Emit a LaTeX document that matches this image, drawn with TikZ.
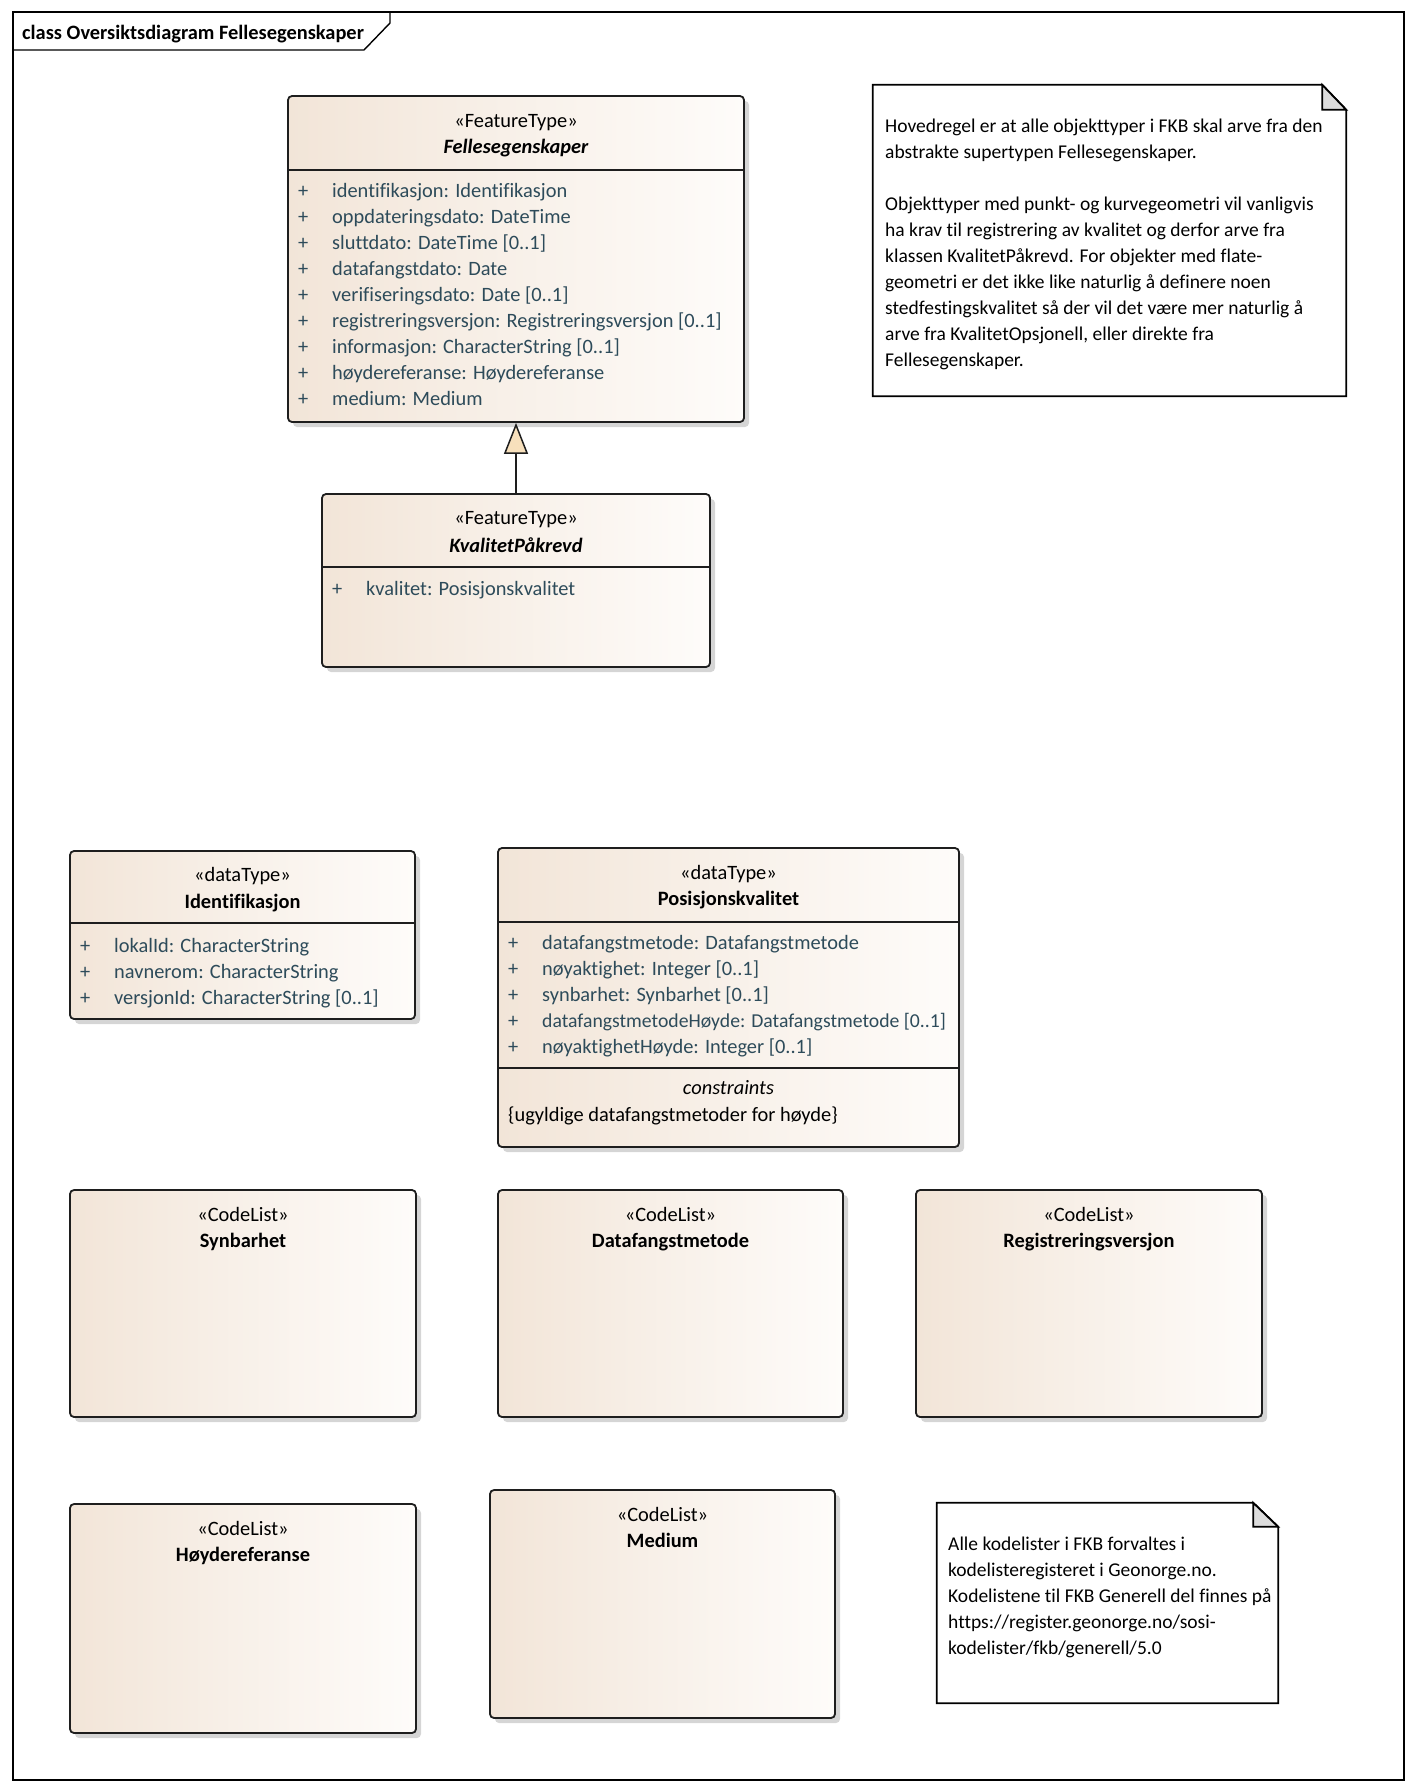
\documentclass[tikz,border=0pt]{standalone}
\usepackage{fontspec}
\setmainfont{Carlito}[Ligatures={NoCommon}]
\usetikzlibrary{shadows,calc,arrows.meta}
\definecolor{attrc}{RGB}{45,75,90}
\definecolor{boxL}{RGB}{242,229,216}
\definecolor{boxR}{RGB}{254,252,250}
\definecolor{foldc}{RGB}{220,220,220}
\definecolor{trifill}{RGB}{247,224,188}
\definecolor{edgec}{RGB}{30,30,30}
\tikzset{
  umlbox/.style={draw=edgec, line width=1.8pt, rounded corners=4pt,
    left color=boxL, right color=boxR, inner sep=0pt,
    drop shadow={shadow xshift=5pt, shadow yshift=-5pt, fill=black!30, opacity=0.55}},
  stereo/.style={anchor=base, inner sep=0pt, font=\fontsize{20.4}{24}\selectfont},
  cname/.style={anchor=base, inner sep=0pt, font=\fontsize{20.4}{24}\selectfont\bfseries},
  aname/.style={anchor=base, inner sep=0pt, font=\fontsize{20.4}{24}\selectfont\bfseries\itshape},
  attrtxt/.style={anchor=base west, inner sep=0pt, text=attrc, font=\fontsize{20.4}{24}\selectfont},
  plaintxt/.style={anchor=base west, inner sep=0pt, font=\fontsize{20.4}{24}\selectfont},
  divider/.style={line width=1.8pt, edgec},
  noteshape/.style={rectangle, inner sep=0pt},
  noteline/.style={line width=1.8pt, draw=black, fill=white},
  notetxt/.style={anchor=north west, inner sep=0pt, align=left, font=\fontsize{19.5}{26}\selectfont},
  framel/.style={line width=1.4pt, black},
}
\newcommand{\attrrow}[4]{%
  \node[attrtxt] (#1p) at ({#2+10},#3) {+};
  \node[attrtxt] (#1) at ({#2+44},#3) {#4};}
\begin{document}
\begin{tikzpicture}[x=1pt,y=-1pt]
\useasboundingbox (0,0) rectangle (1416,1792);
% frame
\draw[framel] (13,12) rectangle (1404,1780);
\draw[framel] (13,50) -- (364,50) -- (390,23) -- (390,12);
\node[cname, anchor=base west] (title) at (22,39) {class Oversiktsdiagram Fellesegenskaper};

% Fellesegenskaper
\node[umlbox, minimum width=456pt, minimum height=326pt] (felles) at (516,259) {};
\node[stereo] (fellesS) at (516,127) {«FeatureType»};
\node[aname] (fellesN) at (516,153) {Fellesegenskaper};
\draw[divider] (felles.west |- 0,170) -- (felles.east |- 0,170);
\attrrow{fa1}{288}{197}{identifikasjon: Identifikasjon}
\attrrow{fa2}{288}{223}{oppdateringsdato: DateTime}
\attrrow{fa3}{288}{249}{sluttdato: DateTime [0..1]}
\attrrow{fa4}{288}{275}{datafangstdato: Date}
\attrrow{fa5}{288}{301}{verifiseringsdato: Date [0..1]}
\attrrow{fa6}{288}{327}{registreringsversjon: Registreringsversjon [0..1]}
\attrrow{fa7}{288}{353}{informasjon: CharacterString [0..1]}
\attrrow{fa8}{288}{379}{høydereferanse: Høydereferanse}
\attrrow{fa9}{288}{405}{medium: Medium}

% KvalitetPåkrevd
\node[umlbox, minimum width=388pt, minimum height=173pt] (kp) at (516,580.5) {};
\node[stereo] (kpS) at (516,524) {«FeatureType»};
\node[aname] (kpN) at (516,552) {KvalitetPåkrevd};
\draw[divider] (kp.west |- 0,567) -- (kp.east |- 0,567);
\attrrow{ka1}{322}{595}{kvalitet: Posisjonskvalitet}

% generalization
\draw[line width=1.8pt, edgec, -{Triangle[length=31pt, width=24pt, fill=trifill, line width=1.5pt]}] (kp.north) -- (felles.south);

% Note 1
\node[noteshape, minimum width=473pt, minimum height=311pt] (note1) at (1109.5,240.5) {};
\draw[noteline] (note1.north west) -- ($(note1.north east)+(-24,0)$) -- ($(note1.north east)+(0,25)$) -- (note1.south east) -- (note1.south west) -- cycle;
\draw[line width=1.8pt, fill=foldc] ($(note1.north east)+(-24,0)$) -- ($(note1.north east)+(-24,25)$) -- ($(note1.north east)+(0,25)$) -- cycle;
\node[notetxt] (note1t) at (885,119) {Hovedregel er at alle objekttyper i FKB skal arve fra den\\
abstrakte supertypen Fellesegenskaper.\\[26pt]
Objekttyper med punkt- og kurvegeometri vil vanligvis\\
ha krav til registrering av kvalitet og derfor arve fra\\
klassen KvalitetPåkrevd. For objekter med flate-\\
geometri er det ikke like naturlig å definere noen\\
stedfestingskvalitet så der vil det være mer naturlig å\\
arve fra KvalitetOpsjonell, eller direkte fra\\
Fellesegenskaper.};

% Identifikasjon
\node[umlbox, minimum width=345pt, minimum height=168pt] (ident) at (242.5,935) {};
\node[stereo] (identS) at (242.5,881) {«dataType»};
\node[cname] (identN) at (242.5,908) {Identifikasjon};
\draw[divider] (ident.west |- 0,923) -- (ident.east |- 0,923);
\attrrow{ia1}{70}{952}{lokalId: CharacterString}
\attrrow{ia2}{70}{978}{navnerom: CharacterString}
\attrrow{ia3}{70}{1004}{versjonId: CharacterString [0..1]}

% Posisjonskvalitet
\node[umlbox, minimum width=461pt, minimum height=299pt] (posk) at (728.5,997.5) {};
\node[stereo] (poskS) at (728.5,879) {«dataType»};
\node[cname] (poskN) at (728.5,905) {Posisjonskvalitet};
\draw[divider] (posk.west |- 0,922) -- (posk.east |- 0,922);
\attrrow{pa1}{498}{949}{datafangstmetode: Datafangstmetode}
\attrrow{pa2}{498}{975}{nøyaktighet: Integer [0..1]}
\attrrow{pa3}{498}{1001}{synbarhet: Synbarhet [0..1]}
\node[attrtxt] (pa4p) at (508,1027) {+};
\node[attrtxt, font=\fontsize{19.7}{24}\selectfont] (pa4) at (542,1027) {datafangstmetodeHøyde: Datafangstmetode [0..1]};
\attrrow{pa5}{498}{1053}{nøyaktighetHøyde: Integer [0..1]}
\draw[divider] (posk.west |- 0,1068) -- (posk.east |- 0,1068);
\node[stereo, font=\fontsize{20.4}{24}\selectfont\itshape] (poskC) at (728.5,1094) {constraints};
\node[plaintxt] (poskCt) at (508,1121) {\{ugyldige datafangstmetoder for høyde\}};

% CodeLists row 1
\node[umlbox, minimum width=346pt, minimum height=227pt] (synb) at (243,1303.5) {};
\node[stereo] (synbS) at (243,1221) {«CodeList»};
\node[cname] (synbN) at (243,1247) {Synbarhet};

\node[umlbox, minimum width=345pt, minimum height=227pt] (dataf) at (670.5,1303.5) {};
\node[stereo] (datafS) at (670.5,1221) {«CodeList»};
\node[cname] (datafN) at (670.5,1247) {Datafangstmetode};

\node[umlbox, minimum width=346pt, minimum height=227pt] (regv) at (1089,1303.5) {};
\node[stereo] (regvS) at (1089,1221) {«CodeList»};
\node[cname] (regvN) at (1089,1247) {Registreringsversjon};

% CodeLists row 2
\node[umlbox, minimum width=346pt, minimum height=229pt] (hoyde) at (243,1618.5) {};
\node[stereo] (hoydeS) at (243,1535) {«CodeList»};
\node[cname] (hoydeN) at (243,1561) {Høydereferanse};

\node[umlbox, minimum width=345pt, minimum height=228pt] (medium) at (662.5,1604) {};
\node[stereo] (mediumS) at (662.5,1521) {«CodeList»};
\node[cname] (mediumN) at (662.5,1547) {Medium};

% Note 2
\node[noteshape, minimum width=341pt, minimum height=200pt] (note2) at (1107.5,1603) {};
\draw[noteline] (note2.north west) -- ($(note2.north east)+(-25,0)$) -- ($(note2.north east)+(0,24)$) -- (note2.south east) -- (note2.south west) -- cycle;
\draw[line width=1.8pt, fill=foldc] ($(note2.north east)+(-25,0)$) -- ($(note2.north east)+(-25,24)$) -- ($(note2.north east)+(0,24)$) -- cycle;
\node[notetxt] (note2t) at (948,1537) {Alle kodelister i FKB forvaltes i\\
kodelisteregisteret i Geonorge.no.\\
Kodelistene til FKB Generell del finnes på\\
https://register.geonorge.no/sosi-\\
kodelister/fkb/generell/5.0};
\end{tikzpicture}
\end{document}
